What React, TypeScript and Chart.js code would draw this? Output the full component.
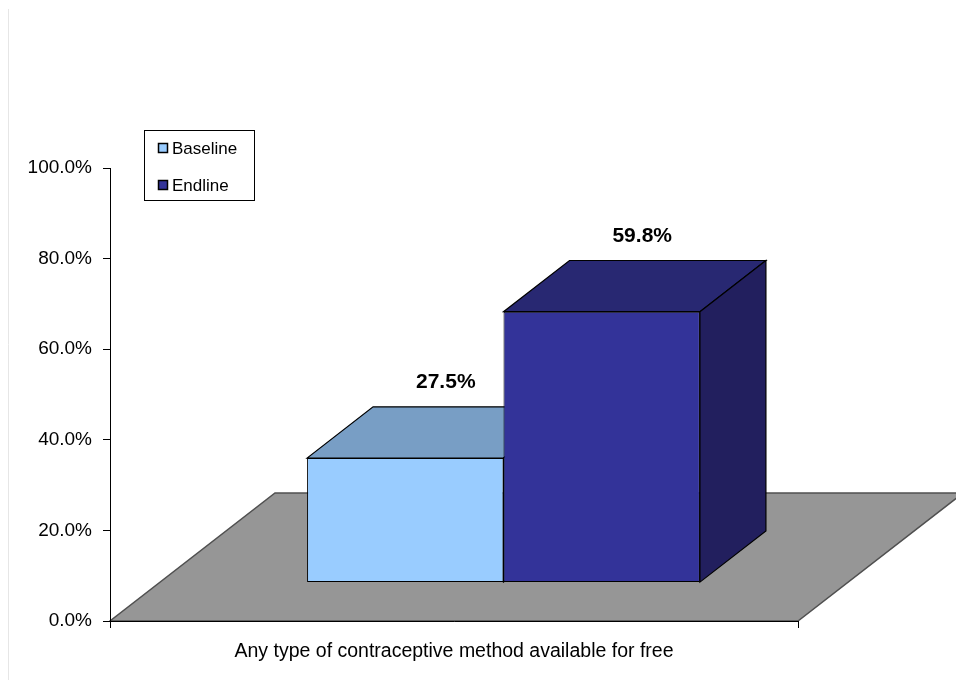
import { useEffect, useRef } from "react";
import { Chart, registerables } from "chart.js";

Chart.register(...registerables);

// ---- data ----
const categories = ["Any type of contraceptive method available for free"];
const seriesNames = ["Baseline", "Endline"];
const baselineValues = [27.5];
const endlineValues = [59.8];
const yTickStep = 20;
const yMax = 100;

// ---- styling ----
const FONT = "'Liberation Sans', Arial, Helvetica, sans-serif";
const FRONT_COLORS = ["#99CCFF", "#333399"];
const TOP_COLORS = ["#789EC5", "#282872"];
const SIDE_COLORS = ["#5E7FA3", "#221F5E"];
const FLOOR_FILL = "#969696";
const FLOOR_EDGE = "#505050";

// depth of the floor plane (pixels); bars occupy 30%..70% of that depth
const FLOOR_DX = 165;
const FLOOR_DY = -128;
const BAR_FRONT = 0.3;
const BAR_BACK = 0.7;
// value labels sit above the bar tops
const LABEL_DX = 90;
const LABEL_DY = -114;

function poly(ctx: CanvasRenderingContext2D, pts: number[][]) {
  ctx.beginPath();
  ctx.moveTo(pts[0][0], pts[0][1]);
  for (let i = 1; i < pts.length; i++) ctx.lineTo(pts[i][0], pts[i][1]);
  ctx.closePath();
}

const box3d = {
  id: "box3d",
  beforeDraw(chart: any) {
    const { ctx, chartArea: a } = chart;
    ctx.save();
    // faint frame edge on the left
    ctx.strokeStyle = "#e6e6e6";
    ctx.lineWidth = 1;
    ctx.beginPath();
    ctx.moveTo(8.5, 9);
    ctx.lineTo(8.5, chart.height);
    ctx.stroke();
    // floor plane
    poly(ctx, [
      [a.left, a.bottom],
      [a.right, a.bottom],
      [a.right + FLOOR_DX, a.bottom + FLOOR_DY],
      [a.left + FLOOR_DX, a.bottom + FLOOR_DY],
    ]);
    ctx.fillStyle = FLOOR_FILL;
    ctx.fill();
    ctx.strokeStyle = FLOOR_EDGE;
    ctx.lineWidth = 1.5;
    ctx.stroke();
    ctx.restore();
  },
  // top and side faces of every bar, left to right, before any front face
  beforeDatasetsDraw(chart: any) {
    const { ctx } = chart;
    const fx = FLOOR_DX * BAR_FRONT;
    const fy = FLOOR_DY * BAR_FRONT;
    const dx = FLOOR_DX * (BAR_BACK - BAR_FRONT);
    const dy = FLOOR_DY * (BAR_BACK - BAR_FRONT);
    chart.data.datasets.forEach((_ds: any, i: number) => {
      const meta = chart.getDatasetMeta(i);
      meta.data.forEach((el: any) => {
        const { x, y, base, width } = el.getProps(["x", "y", "base", "width"], true);
        const l = x - width / 2 + fx;
        const r = x + width / 2 + fx;
        const t = y + fy;
        const b = base + fy;
        ctx.save();
        ctx.lineWidth = 1.2;
        ctx.strokeStyle = "#000";
        poly(ctx, [[l, t], [r, t], [r + dx, t + dy], [l + dx, t + dy]]);
        ctx.fillStyle = TOP_COLORS[i];
        ctx.fill();
        ctx.stroke();
        poly(ctx, [[r, t], [r + dx, t + dy], [r + dx, b + dy], [r, b]]);
        ctx.fillStyle = SIDE_COLORS[i];
        ctx.fill();
        ctx.stroke();
        ctx.restore();
      });
    });
  },
  // front faces are drawn by Chart.js, shifted into the bar plane
  beforeDatasetDraw(chart: any) {
    chart.ctx.save();
    chart.ctx.translate(FLOOR_DX * BAR_FRONT, FLOOR_DY * BAR_FRONT);
  },
  afterDatasetDraw(chart: any) {
    chart.ctx.restore();
  },
  afterDatasetsDraw(chart: any) {
    const { ctx } = chart;
    ctx.save();
    ctx.font = `bold 21px ${FONT}`;
    ctx.fillStyle = "#000";
    ctx.textAlign = "center";
    ctx.textBaseline = "middle";
    chart.data.datasets.forEach((ds: any, di: number) => {
      const meta = chart.getDatasetMeta(di);
      meta.data.forEach((el: any, j: number) => {
        const v = ds.data[j] as number;
        ctx.fillText(`${v.toFixed(1)}%`, el.x + LABEL_DX, el.y + LABEL_DY);
      });
    });
    ctx.restore();
  },
  afterDraw(chart: any) {
    const { ctx } = chart;
    ctx.save();
    // legend box
    const lx = 144.5, ly = 130.5, lw = 110, lh = 70;
    ctx.fillStyle = "#fff";
    ctx.fillRect(lx, ly, lw, lh);
    ctx.strokeStyle = "#000";
    ctx.lineWidth = 1;
    ctx.strokeRect(lx, ly, lw, lh);
    ctx.font = `17px ${FONT}`;
    ctx.textBaseline = "middle";
    ctx.textAlign = "left";
    chart.data.datasets.forEach((ds: any, di: number) => {
      const cy = 148 + di * 37;
      ctx.fillStyle = ds.backgroundColor;
      ctx.fillRect(158.5, cy - 4.5, 9, 9);
      ctx.strokeStyle = "#000";
      ctx.lineWidth = 1.5;
      ctx.strokeRect(158.5, cy - 4.5, 9, 9);
      ctx.fillStyle = "#000";
      ctx.fillText(ds.label, 172, cy + 1);
    });
    ctx.restore();
  },
};

export default function App() {
  const ref = useRef<HTMLCanvasElement | null>(null);

  useEffect(() => {
    if (!ref.current) return;
    const chart = new Chart(ref.current, {
      type: "bar",
      data: {
        labels: categories,
        datasets: [
          {
            label: seriesNames[0],
            data: baselineValues,
            backgroundColor: FRONT_COLORS[0],
            borderColor: "#000",
            borderWidth: 1,
            borderSkipped: false,
            categoryPercentage: 0.571,
            barPercentage: 1,
            clip: false,
          },
          {
            label: seriesNames[1],
            data: endlineValues,
            backgroundColor: FRONT_COLORS[1],
            borderColor: "#000",
            borderWidth: 1,
            borderSkipped: false,
            categoryPercentage: 0.571,
            barPercentage: 1,
            clip: false,
          },
        ],
      },
      options: {
        animation: false,
        responsive: false,
        events: [],
        layout: { padding: { top: 168, right: 158, left: 0, bottom: 0 } },
        plugins: {
          legend: { display: false },
          tooltip: { enabled: false },
        },
        scales: {
          x: {
            offset: true,
            grid: {
              offset: true,
              drawOnChartArea: false,
              drawTicks: true,
              tickLength: 7,
              color: "#000",
              z: 1,
            },
            border: { display: true, color: "#000", width: 1, z: 1 },
            ticks: {
              color: "#000",
              font: { family: FONT, size: 19.5 },
              padding: 12,
              maxRotation: 0,
            },
            afterFit: (s: any) => {
              s.height = 59;
            },
          },
          y: {
            min: 0,
            max: yMax,
            grid: {
              drawOnChartArea: false,
              drawTicks: true,
              tickLength: 7,
              color: "#000",
              z: 1,
            },
            border: { display: true, color: "#000", width: 1, z: 1 },
            ticks: {
              stepSize: yTickStep,
              color: "#000",
              font: { family: FONT, size: 19 },
              padding: 11,
              callback: (v: any) => `${Number(v).toFixed(1)}%`,
            },
            afterFit: (s: any) => {
              s.width = 110;
            },
          },
        },
      },
      plugins: [box3d],
    });
    return () => chart.destroy();
  }, []);

  return (
    <div style={{ position: "absolute", left: 0, top: 0, width: 956, height: 680, background: "#fff" }}>
      <canvas ref={ref} width={956} height={680} style={{ display: "block" }} />
    </div>
  );
}
